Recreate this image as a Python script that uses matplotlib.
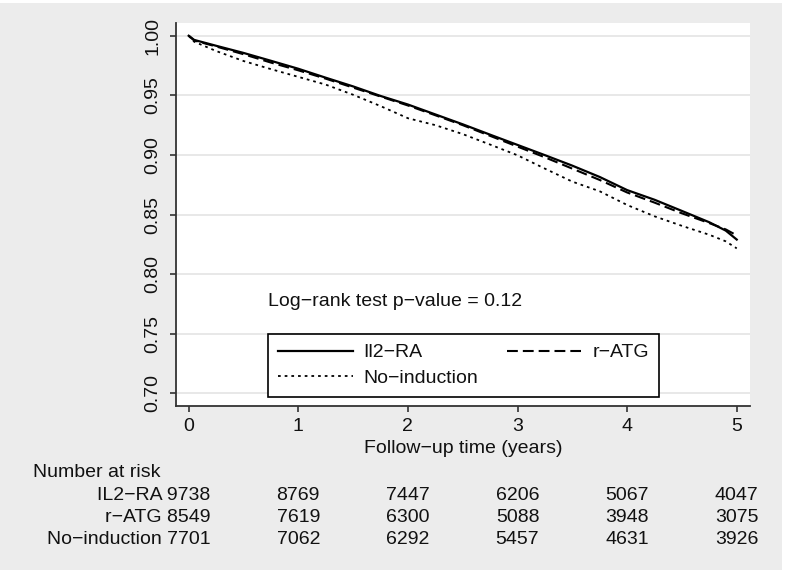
import matplotlib
matplotlib.use("Agg")
import matplotlib.pyplot as plt
from matplotlib.lines import Line2D
from matplotlib.patches import Rectangle
import matplotlib.transforms as mtransforms

plt.rcParams['font.family'] = ['Liberation Sans', 'DejaVu Sans']
plt.rcParams['font.size'] = 14

# ---------------- data ----------------
time = [0, 0.05, 0.25, 0.5, 0.75, 1.0, 1.25, 1.5, 1.75, 2.0, 2.25, 2.5, 2.75,
        3.0, 3.25, 3.5, 3.75, 4.0, 4.25, 4.5, 4.75, 4.9, 5.0]
surv_il2ra = [1.000, 0.9965, 0.9916, 0.9856, 0.979, 0.9723, 0.9648, 0.9575, 0.9495,
              0.9423, 0.934, 0.9257, 0.917, 0.9084, 0.8998, 0.891, 0.8815, 0.8705,
              0.8624, 0.853, 0.8435, 0.8365, 0.829]
surv_ratg = [1.000, 0.996, 0.991, 0.9845, 0.9775, 0.971, 0.964, 0.9565, 0.949,
             0.9415, 0.9333, 0.925, 0.916, 0.907, 0.898, 0.8885, 0.879, 0.8685,
             0.860, 0.851, 0.8428, 0.8375, 0.8325]
surv_noind = [1.000, 0.995, 0.9872, 0.9788, 0.972, 0.9655, 0.959, 0.9505, 0.941,
              0.9308, 0.925, 0.9175, 0.9087, 0.8997, 0.8885, 0.8776, 0.8695, 0.858,
              0.8485, 0.8405, 0.833, 0.8275, 0.8216]

legend_labels = ['Il2\u2212RA', 'r\u2212ATG', 'No\u2212induction']

risk_times = [0, 1, 2, 3, 4, 5]
risk_groups = ['IL2\u2212RA', 'r\u2212ATG', 'No\u2212induction']
risk_il2ra = [9738, 8769, 7447, 6206, 5067, 4047]
risk_ratg = [8549, 7619, 6300, 5088, 3948, 3075]
risk_noind = [7701, 7062, 6292, 5457, 4631, 3926]

yticks = [0.70, 0.75, 0.80, 0.85, 0.90, 0.95, 1.00]
xticks = [0, 1, 2, 3, 4, 5]
xlabel = 'Follow\u2212up time (years)'
annot = 'Log\u2212rank test p\u2212value = 0.12'
risk_title = 'Number at risk'

# ---------------- figure ----------------
W, H = 787, 573
fig = plt.figure(figsize=(W / 100, H / 100), dpi=100, facecolor='white')
def fx(px): return px / W
def fy(py): return 1 - py / H

bg = Rectangle((0, fy(570)), fx(782), fy(3) - fy(570), transform=fig.transFigure,
               facecolor='#ececec', edgecolor='none', zorder=-10)
fig.patches.append(bg)

ax = fig.add_axes([fx(176), fy(405.7), fx(750) - fx(176), fy(23) - fy(405.7)])
ax.set_facecolor('white')
ax.set_xlim(-0.1159, 5.121)
ax.set_ylim(0.6896, 1.0107)

for s in ['top', 'right']:
    ax.spines[s].set_visible(False)
for s in ['left', 'bottom']:
    ax.spines[s].set_color('#333333')
    ax.spines[s].set_linewidth(1.3)

ax.set_yticks(yticks)
ax.set_yticklabels([f'{v:.2f}' for v in yticks], rotation=90, va='center')
ax.set_xticks(xticks)
ax.set_xticklabels([str(v) for v in xticks])
ax.tick_params(axis='both', direction='out', length=4.5, width=1.2, color='#333333',
               labelsize=14, labelcolor='#111111')
ax.tick_params(axis='y', pad=6)
ax.tick_params(axis='x', pad=4)
ax.yaxis.grid(True, color='#e4e4e4', linewidth=1.2)
ax.set_axisbelow(True)

l1, = ax.plot(time, surv_il2ra, color='black', linewidth=1.6, linestyle='-',
              label=legend_labels[0])
l2, = ax.plot(time, surv_ratg, color='black', linewidth=1.5, label=legend_labels[1])
l2.set_dashes((5.2, 2.4))
l3, = ax.plot(time, surv_noind, color='black', linewidth=1.3, label=legend_labels[2])
l3.set_dashes((1.5, 2.2))

ax.set_xlabel(xlabel, fontsize=14, labelpad=4, color='#111111')

ax.text(0.726, 0.7768, annot, fontsize=14, ha='left', va='center', color='#111111')

leg = ax.legend([l1, l3, l2], [legend_labels[0], legend_labels[2], legend_labels[1]],
                ncol=2, loc='upper left', bbox_to_anchor=(fx(268), fy(334)),
                bbox_transform=fig.transFigure, fontsize=14, frameon=True,
                fancybox=False, framealpha=1, edgecolor='black',
                handlelength=3.85, handletextpad=0.57, columnspacing=1.45,
                borderpad=0.5, labelspacing=0.42, borderaxespad=0)
leg.get_frame().set_linewidth(1.2)
for t in leg.get_texts():
    t.set_color('#111111')

# ---------------- risk table ----------------
blend = mtransforms.blended_transform_factory(ax.transData, fig.transFigure)
fig.text(fx(33), fy(477.3), risk_title, fontsize=14, ha='left', va='baseline',
         color='#111111')
rows = [risk_il2ra, risk_ratg, risk_noind]
baselines = [500, 522.3, 544]
for name, counts, by in zip(risk_groups, rows, baselines):
    off = mtransforms.offset_copy(blend, fig=fig, x=21.5, y=0, units='dots')
    ax.text(risk_times[0], fy(by), f'{name} {counts[0]}', transform=off,
            fontsize=14, ha='right', va='baseline', color='#111111', clip_on=False)
    for t, n in zip(risk_times[1:], counts[1:]):
        ax.text(t, fy(by), str(n), transform=blend, fontsize=14, ha='center',
                va='baseline', color='#111111', clip_on=False)

fig.savefig('out.png', dpi=100, facecolor=fig.get_facecolor())
